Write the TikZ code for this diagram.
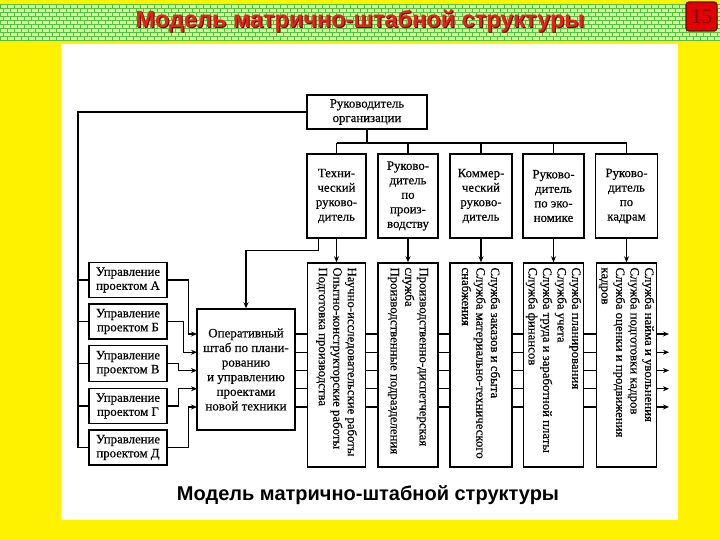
\documentclass[tikz,border=0pt]{standalone}
\usepackage{fontspec}
\setmainfont{Liberation Serif}
\newfontfamily\scan[FakeBold=0.4]{Liberation Serif}
\newfontfamily\sansb{Liberation Sans}
\usetikzlibrary{arrows.meta}
\definecolor{bandfill}{RGB}{214,246,160}
\definecolor{bandline}{RGB}{80,196,60}
\definecolor{titlered}{RGB}{228,36,28}
\definecolor{darkred}{RGB}{110,0,0}
\definecolor{pagered}{RGB}{226,0,0}
\begin{document}
\begin{tikzpicture}[x=1pt,y=-1pt,
  box/.style={draw, line width=1.5pt, inner sep=0pt},
  ln/.style={line width=1.3pt},
  arr/.style={line width=1.3pt, -{Stealth[length=6pt,width=5pt]}},
  txt/.style={font=\scan\fontsize{12.8}{14.5}\selectfont, align=center},
  vtxt/.style={rotate=-90, anchor=west, align=left, inner sep=0pt, font=\scan\fontsize{12.8}{14.5}\selectfont}]
\useasboundingbox (0,0) rectangle (720,540);
% background
\fill[yellow] (0,0) rectangle (720,540);
% top band
\fill[bandfill] (0,4) rectangle (720,40);
\foreach \r in {0,...,8}{
  \pgfmathsetmacro{\yy}{4+4*\r}
  \draw[bandline, line width=0.5pt] (0,\yy) -- (720,\yy);
  \pgfmathsetmacro{\off}{mod(\r,2)*3.5}
  \foreach \c in {0,...,103}{
    \pgfmathsetmacro{\xx}{\off+7*\c}
    \draw[bandline, line width=0.5pt] (\xx,\yy) -- (\xx,\yy+4);
  }
}
\draw[bandline, line width=0.5pt] (0,40) -- (720,40);
% page number
\node[draw=darkred, line width=1.2pt, fill=pagered, rounded corners=3pt,
  minimum width=31pt, minimum height=29pt, inner sep=0pt,
  font=\fontsize{21}{21}\selectfont, text=darkred] (pnum) at (701.5,16.5) {15};
% title
\node[font=\sansb\bfseries\fontsize{23.5}{24}\selectfont, text=darkred] at (361,22) {Модель матрично-штабной структуры};
\node[font=\sansb\bfseries\fontsize{23.5}{24}\selectfont, text=titlered] (title) at (360,21) {Модель матрично-штабной структуры};
% white sheet
\fill[white] (61,44) rectangle (678,520);

% top box
\node[box, txt, minimum width=120pt, minimum height=34pt] (org) at (367,112) {Руководитель\\организации};
% middle boxes
\node[box, txt, minimum width=59pt, minimum height=84pt] (m1) at (336.5,196) {Техни-\\ческий\\руково-\\дитель};
\node[box, txt, minimum width=60pt, minimum height=84pt] (m2) at (408,196) {Руково-\\дитель\\по\\произ-\\водству};
\node[box, txt, minimum width=62pt, minimum height=84pt] (m3) at (481,196) {Коммер-\\ческий\\руково-\\дитель};
\node[box, txt, minimum width=61pt, minimum height=84pt] (m4) at (553.5,196) {Руково-\\дитель\\по эко-\\номике};
\node[box, txt, minimum width=62pt, minimum height=84pt] (m5) at (626.5,196) {Руково-\\дитель\\по\\кадрам};
% tall boxes
\node[box, minimum width=58pt, minimum height=204pt] (t1) at (336.5,365) {};
\node[box, minimum width=60pt, minimum height=204pt] (t2) at (408,365) {};
\node[box, minimum width=62pt, minimum height=204pt] (t3) at (481,365) {};
\node[box, minimum width=60pt, minimum height=204pt] (t4) at (553.5,365) {};
\node[box, minimum width=60pt, minimum height=204pt] (t5) at (626.5,365) {};
\node[vtxt] (v1) at ([yshift=-5pt]t1.north) {Научно-исследовательские работы\\Опытно-конструкторские работы\\Подготовка производства};
\node[vtxt] (v2) at ([yshift=-5pt]t2.north) {Производственно-диспетчерская\\служба\\Производственные подразделения};
\node[vtxt] (v3) at ([yshift=-5pt]t3.north) {Служба заказов и сбыта\\Служба материально-технического\\снабжения};
\node[vtxt] (v4) at ([yshift=-5pt]t4.north) {Служба планирования\\Служба учета\\Служба труда и заработной платы\\Служба финансов};
\node[vtxt] (v5) at ([yshift=-5pt]t5.north) {Служба найма и увольнения\\Служба подготовки кадров\\Служба оценки и продвижения\\кадров};
% staff box
\node[box, txt, minimum width=98pt, minimum height=121pt, font=\scan\fontsize{13}{14.6}\selectfont] (shtab) at (246,369.5) {Оперативный\\штаб по плани-\\рованию\\и управлению\\проектами\\новой техники};
% project boxes
\node[box, txt, minimum width=78pt, minimum height=35pt, font=\scan\fontsize{12.8}{14}\selectfont] (pA) at (128,280) {Управление\\проектом А};
\node[box, txt, minimum width=78pt, minimum height=35pt, font=\scan\fontsize{12.8}{14}\selectfont] (pB) at (128,321.5) {Управление\\проектом Б};
\node[box, txt, minimum width=78pt, minimum height=36pt, font=\scan\fontsize{12.8}{14}\selectfont] (pV) at (128,363.5) {Управление\\проектом В};
\node[box, txt, minimum width=78pt, minimum height=35pt, font=\scan\fontsize{12.8}{14}\selectfont] (pG) at (128,406) {Управление\\проектом Г};
\node[box, txt, minimum width=78pt, minimum height=35pt, font=\scan\fontsize{12.8}{14}\selectfont] (pD) at (128,447.5) {Управление\\проектом Д};

% connectors: top
\coordinate (bus) at (367,143);
\draw[ln] (org.south) -- (bus);
\draw[ln] (m1.north |- bus) -- (m5.north |- bus);
\foreach \m in {m1,m2,m3,m4,m5}{ \draw[ln] (\m.north |- bus) -- (\m.north); }
\foreach \k in {1,...,5}{ \draw[arr] (m\k.south) -- (t\k.north); }
% left bus
\coordinate (L) at (78,112);
\draw[ln] (org.west) -- (L) -- (L |- pD.west);
\foreach \p in {pA,pB,pV,pG,pD}{ \draw[ln] (L |- \p.west) -- (\p.west); }
% technical head to staff
\draw[arr] ([xshift=12pt]m1.south west) -- ++(0,12) -| (shtab.north);
% rows
\coordinate (r1) at (197,334);
\coordinate (r2) at (197,352.25);
\coordinate (r3) at (197,370.5);
\coordinate (r4) at (197,388.75);
\coordinate (r5) at (197,407);
\draw[arr] (pA.east) -- ++(21,0) |- (r1);
\draw[arr] (pB.east) -- ++(16,0) |- (r2);
\draw[arr] (pV.east) -- ++(11,0) |- (r3);
\draw[arr] (pG.east) -- ++(11,0) |- (r4);
\draw[arr] (pD.east) -- ++(21,0) |- (r5);
\foreach \k in {1,...,5}{
  \coordinate (e\k) at (669,0 |- r\k);
  \draw[ln] (shtab.east |- r\k) -- (t1.west |- r\k);
  \draw[ln] (t1.east |- r\k) -- (t2.west |- r\k);
  \draw[ln] (t2.east |- r\k) -- (t3.west |- r\k);
  \draw[ln] (t3.east |- r\k) -- (t4.west |- r\k);
  \draw[ln] (t4.east |- r\k) -- (t5.west |- r\k);
  \draw[arr] (t5.east |- r\k) -- (e\k);
}
% caption
\node[font=\sansb\bfseries\fontsize{20}{20}\selectfont] (cap) at (368,495) {Модель матрично-штабной структуры};
\end{tikzpicture}
\end{document}
